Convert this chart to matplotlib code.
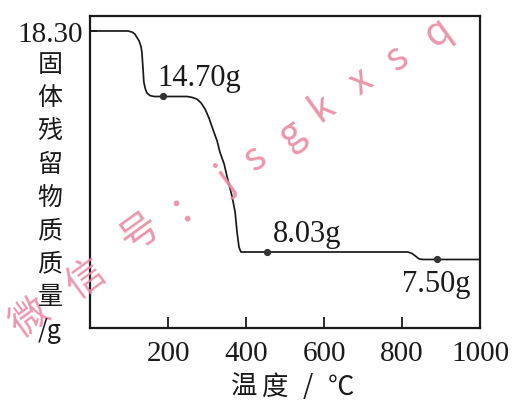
import numpy as np
import matplotlib
matplotlib.use("Agg")
import matplotlib.pyplot as plt

# Thermogravimetric curve: residual solid mass vs. temperature
temperature = [5, 97, 108, 115, 126, 131, 133, 136, 138, 142, 146, 154, 164,
               249, 262, 274, 285, 295, 305, 315, 326, 333, 344, 351, 364,
               372, 377, 382, 387, 815, 826, 836, 844, 854, 1000]
mass = [18.30, 18.30, 18.24, 18.13, 17.75, 17.42, 17.14, 16.21, 15.50, 15.11,
        14.89, 14.75, 14.70, 14.70, 14.66, 14.59, 14.42, 14.16, 13.78, 13.30,
        12.79, 12.32, 11.80, 11.29, 10.43, 9.75, 8.89, 8.24, 8.03, 8.03,
        7.92, 7.71, 7.535, 7.50, 7.50]

# Labelled plateau points
mark_temp = [188, 454, 890]
mark_mass = [14.70, 8.03, 7.50]
mark_text = ["14.70g", "8.03g", "7.50g"]

x_ticks = [200, 400, 600, 800, 1000]
x_tick_labels = ["200", "400", "600", "800", "1000"]
y_ticks = [18.30]
y_tick_labels = ["18.30"]

y_label_chars = ["固", "体", "残", "留", "物", "质", "质", "量", "/g"]
x_label_chars = ["温", "度", "/", "℃"]
watermark = "微信号：jsgkxsq"

# The mass axis is schematic (not to scale): piecewise-linear scale through the key masses
scale_values = np.array([0.0, 7.50, 8.03, 14.70, 18.30, 19.0])
scale_levels = np.array([0.0, 0.2196, 0.2436, 0.742, 0.952, 1.0])


def fwd(v):
    return np.interp(v, scale_values, scale_levels)


def inv(p):
    return np.interp(p, scale_levels, scale_values)


W, H = 516, 406
fig = plt.figure(figsize=(W / 100, H / 100), dpi=100)
fig.patch.set_facecolor("white")

L, R, T, B = 90, 480, 17, 329
ax = fig.add_axes([L / W, (H - B) / H, (R - L) / W, (B - T) / H])
ax.set_yscale("function", functions=(fwd, inv))
ax.set_xlim(0, 1000)
ax.set_ylim(0, 19.0)

ink = "#1a1a1a"
ax.plot(temperature, mass, color=ink, lw=1.25, solid_joinstyle="round")
ax.plot(mark_temp, mark_mass, "o", color="#333333", ms=4.2, zorder=3)

serif = "Liberation Serif"
ax.set_xticks(x_ticks)
ax.set_xticklabels(x_tick_labels, fontfamily=serif, fontsize=21)
ax.set_yticks(y_ticks)
ax.set_yticklabels(y_tick_labels, fontfamily=serif, fontsize=21)
ax.yaxis.set_minor_locator(plt.NullLocator())
ax.xaxis.set_minor_locator(plt.NullLocator())
ax.tick_params(axis="x", direction="in", length=8, width=1.3, pad=9, colors=ink)
ax.tick_params(axis="y", direction="in", length=5, width=1.2, pad=5, colors=ink)
for s in ax.spines.values():
    s.set_linewidth(1.6)
    s.set_color(ink)

# Annotations for the plateau masses
offsets = [(-4, 3), (4, 3), (-25, -28)]
for tx, my, txt, (dx, dy) in zip(mark_temp, mark_mass, mark_text, offsets):
    ax.annotate(txt, (tx, my), xytext=(dx, dy), textcoords="offset points",
                fontfamily=serif, fontsize=22, color=ink, ha="left", va="bottom")

# Vertical stacked y-axis title
cjk = ["Noto Sans CJK SC", "DejaVu Sans"]
y0, step = 65, 33.2
for i, ch in enumerate(y_label_chars):
    fig.text(50 / W, 1 - (y0 + i * step) / H, ch, fontfamily=cjk, fontsize=18,
             color=ink, ha="center", va="center")

# x-axis title, spaced out
for ch, px in zip(x_label_chars, [244, 274, 308, 341]):
    fig.text(px / W, 1 - 387 / H, ch, fontfamily=cjk, fontsize=19,
             color=ink, ha="center", va="center")

# Diagonal watermark, laid out character by character
pink = "#e98aa2"
ang = 36
cjk_pos = [(30, 318), (86, 279), (140, 232), (190, 203)]
latin_pos = [(226, 180), (255, 158), (292, 134), (322, 108), (361, 81), (397, 58), (438, 32)]
for ch, (px, py) in zip(watermark, cjk_pos + latin_pos):
    fig.text(px / W, 1 - py / H, ch, fontfamily=cjk, fontsize=28, color=pink,
             rotation=ang, ha="center", va="center", alpha=0.9, zorder=0)

fig.savefig("out.png", dpi=100, facecolor="white")
